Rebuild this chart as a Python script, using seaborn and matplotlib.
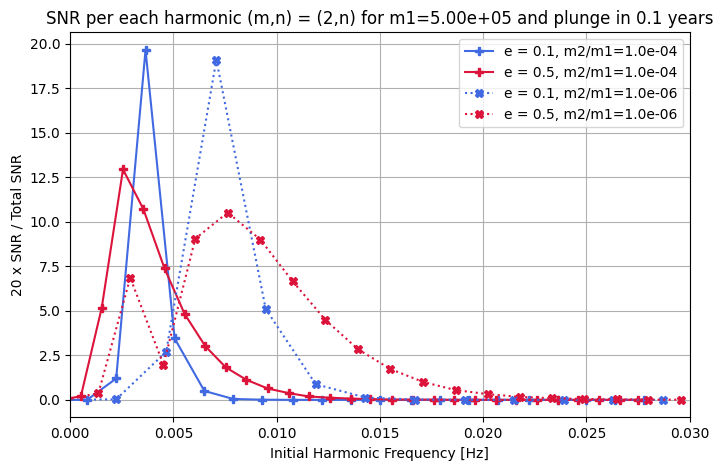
import matplotlib
matplotlib.use('Agg')
import matplotlib.pyplot as plt
import seaborn as sns

# e = 0.1, m2/m1 = 1e-4
x_e01_m4 = [-0.0006, 0.00082, 0.00223, 0.00365, 0.00506, 0.0065, 0.0079, 0.0093, 0.0108, 0.0122,
            0.0136, 0.0150, 0.0165, 0.0179, 0.0193, 0.0207, 0.0222, 0.0236, 0.0250, 0.0264, 0.0278]
y_e01_m4 = [0.0, 0.0, 1.2, 19.65, 3.45, 0.5, 0.05, 0.01, 0.0, 0.0,
            0.0, 0.0, 0.0, 0.0, 0.0, 0.0, 0.0, 0.0, 0.0, 0.0, 0.0]

# e = 0.5, m2/m1 = 1e-4
x_e05_m4 = [-0.00048, 0.00052, 0.00153, 0.00256, 0.00355, 0.00457, 0.00554, 0.00654, 0.00754, 0.00853,
            0.00956, 0.01058, 0.01155, 0.0126, 0.0136, 0.0145, 0.0156, 0.0166, 0.0176, 0.0186,
            0.0196, 0.0206, 0.0216, 0.0226, 0.0236, 0.0246, 0.0256, 0.0266, 0.0275]
y_e05_m4 = [0.0, 0.2, 5.17, 12.94, 10.7, 7.38, 4.83, 3.02, 1.82, 1.13,
            0.64, 0.38, 0.19, 0.12, 0.07, 0.04, 0.02, 0.01, 0.01, 0.0,
            0.0, 0.0, 0.0, 0.0, 0.0, 0.0, 0.0, 0.0, 0.0]

# e = 0.1, m2/m1 = 1e-6
x_e01_m6 = [-0.00018, 0.00223, 0.00465, 0.00708, 0.00947, 0.01189, 0.0143, 0.0167, 0.0191, 0.0215,
            0.0239, 0.0263, 0.0287]
y_e01_m6 = [0.0, 0.03, 2.7, 19.1, 5.1, 0.88, 0.13, 0.02, 0.0, 0.0,
            0.0, 0.0, 0.0]

# e = 0.5, m2/m1 = 1e-6
x_e05_m6 = [-0.0002, 0.00137, 0.00291, 0.00452, 0.00606, 0.00763, 0.00921, 0.01078, 0.01236, 0.01393,
            0.01551, 0.01708, 0.01866, 0.02023, 0.02176, 0.02334, 0.0249, 0.0265, 0.0280, 0.0296]
y_e05_m6 = [0.0, 0.38, 6.86, 1.97, 9.05, 10.52, 9.0, 6.65, 4.49, 2.85,
            1.73, 1.01, 0.55, 0.32, 0.17, 0.09, 0.05, 0.03, 0.01, 0.01]

series = [
    (x_e01_m4, y_e01_m4, 'royalblue', '-', 'P', 'e = 0.1, m2/m1=1.0e-04'),
    (x_e05_m4, y_e05_m4, 'crimson', '-', 'P', 'e = 0.5, m2/m1=1.0e-04'),
    (x_e01_m6, y_e01_m6, 'royalblue', ':', 'X', 'e = 0.1, m2/m1=1.0e-06'),
    (x_e05_m6, y_e05_m6, 'crimson', ':', 'X', 'e = 0.5, m2/m1=1.0e-06'),
]

fig, ax = plt.subplots(figsize=(7.23, 4.70), dpi=100)
fig.subplots_adjust(left=0.097, right=0.954, top=0.931, bottom=0.112)

for xs, ys, col, ls, mk, lab in series:
    sns.lineplot(x=xs, y=ys, ax=ax, color=col, linestyle=ls, marker=mk, sort=False,
                 markeredgecolor=col, markeredgewidth=1.0, markersize=6, linewidth=1.5,
                 label=lab)

ax.set_xlim(0, 0.03)
ax.grid(True)
ax.set_title('SNR per each harmonic (m,n) = (2,n) for m1=5.00e+05 and plunge in 0.1 years')
ax.set_xlabel('Initial Harmonic Frequency [Hz]')
ax.set_ylabel('20 x SNR / Total SNR')
ax.legend(loc='upper right')

fig.savefig('out.png', dpi=100)
